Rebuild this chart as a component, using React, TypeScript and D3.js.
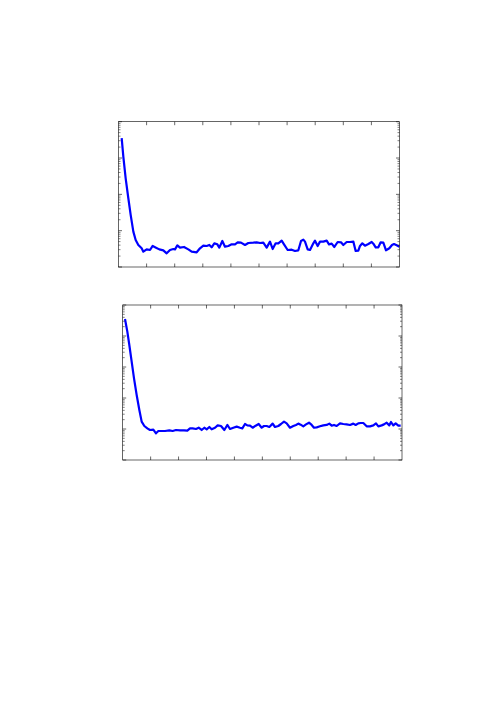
import React from "react";
import * as d3 from "d3";

// Top panel samples (x in 0..100, y values on log scale)
const topX = [1.13,1.72,2.55,3.5,4.33,5.28,6.11,7.06,8.24,8.84,10.02,11.21,12.16,13.35,14.53,15.95,17.14,18.33,19.51,20.11,20.94,21.89,23.31,24.85,26.04,27.82,29.0,30.19,31.38,32.32,33.15,34.1,35.17,35.88,36.95,37.9,39.09,40.27,41.46,42.41,43.59,45.02,46.2,47.98,49.17,50.36,51.54,52.73,53.91,54.86,55.93,56.88,58.07,58.9,60.2,61.63,62.81,64.0,64.95,65.78,66.37,67.32,68.15,69.34,69.93,70.88,71.71,72.9,74.08,74.91,75.86,76.81,78.0,79.18,80.01,81.2,82.38,83.57,84.4,85.35,85.94,86.77,87.72,88.91,90.1,90.69,91.52,92.47,93.3,94.25,95.2,96.38,97.33,98.04,98.99,99.94];
const topY = [0.351,0.109,0.0277,0.0078,0.00271,9.4e-4,5.54e-4,4.04e-4,3.27e-4,2.64e-4,3.06e-4,2.94e-4,3.79e-4,3.41e-4,3.06e-4,2.88e-4,2.38e-4,2.94e-4,3.13e-4,3.06e-4,3.95e-4,3.41e-4,3.56e-4,3.06e-4,2.64e-4,2.54e-4,3.27e-4,3.87e-4,3.79e-4,4.04e-4,3.48e-4,4.48e-4,4.21e-4,3.41e-4,5.2e-4,3.63e-4,3.79e-4,4.21e-4,4.21e-4,4.78e-4,4.68e-4,4.04e-4,4.58e-4,4.68e-4,4.78e-4,4.58e-4,4.68e-4,3.41e-4,4.99e-4,3.13e-4,4.48e-4,4.48e-4,5.31e-4,4.21e-4,2.94e-4,3.0e-4,2.76e-4,2.88e-4,5.2e-4,5.66e-4,4.99e-4,3.06e-4,2.94e-4,4.48e-4,5.31e-4,3.79e-4,4.99e-4,4.99e-4,5.31e-4,4.21e-4,4.39e-4,3.56e-4,4.88e-4,4.78e-4,4.04e-4,4.88e-4,4.88e-4,4.99e-4,2.76e-4,2.82e-4,3.79e-4,4.48e-4,3.87e-4,4.3e-4,4.88e-4,4.39e-4,3.48e-4,3.48e-4,4.78e-4,4.68e-4,2.88e-4,3.27e-4,4.04e-4,4.3e-4,3.95e-4,3.63e-4];

// Bottom panel samples
const botX = [0.82,1.66,2.37,3.21,4.05,5.0,5.96,6.79,7.75,8.82,9.77,10.97,11.92,12.76,13.95,15.15,16.7,17.89,19.08,20.52,21.95,23.14,24.1,25.05,26.24,27.2,28.27,29.23,30.06,31.02,31.85,33.05,34.0,35.2,36.39,37.46,38.42,39.61,40.81,42.0,42.83,43.79,44.62,45.58,46.53,47.61,48.68,49.76,50.59,51.55,52.5,53.69,54.53,55.72,56.68,57.75,58.71,59.9,61.09,62.05,62.88,63.72,64.67,65.63,66.7,67.66,68.49,69.45,70.64,71.83,73.03,73.98,74.82,75.65,76.61,77.8,78.99,80.19,81.38,82.57,83.41,84.36,85.2,86.15,87.35,88.54,89.74,90.69,91.53,92.72,93.56,94.51,95.46,96.06,96.9,97.73,98.69,99.52];
const botY = [0.353,0.138,0.0513,0.01486,0.0043,0.00125,4.1e-4,1.73e-4,1.25e-4,1.05e-4,9.29e-5,9.51e-5,7.25e-5,8.62e-5,8.62e-5,8.62e-5,9.06e-5,8.62e-5,9.29e-5,9.06e-5,9.06e-5,8.83e-5,1.05e-4,1.05e-4,1.0e-4,1.1e-4,9.29e-5,1.1e-4,9.76e-5,1.16e-4,9.76e-5,1.1e-4,1.31e-4,1.25e-4,9.29e-5,1.35e-4,1.0e-4,1.1e-4,1.19e-4,1.1e-4,1.05e-4,1.45e-4,1.31e-4,1.28e-4,1.1e-4,1.28e-4,1.45e-4,1.1e-4,1.25e-4,1.25e-4,1.16e-4,1.49e-4,1.16e-4,1.25e-4,1.45e-4,1.73e-4,1.52e-4,1.1e-4,1.25e-4,1.35e-4,1.49e-4,1.38e-4,1.22e-4,1.41e-4,1.6e-4,1.35e-4,1.1e-4,1.13e-4,1.22e-4,1.31e-4,1.35e-4,1.49e-4,1.28e-4,1.35e-4,1.25e-4,1.52e-4,1.45e-4,1.41e-4,1.35e-4,1.49e-4,1.35e-4,1.52e-4,1.56e-4,1.56e-4,1.22e-4,1.22e-4,1.31e-4,1.52e-4,1.22e-4,1.31e-4,1.41e-4,1.6e-4,1.31e-4,1.68e-4,1.31e-4,1.52e-4,1.28e-4,1.28e-4];

const xTicks = [10, 20, 30, 40, 50, 60, 70, 80, 90];

type PanelProps = {
  left: number; top: number; width: number; height: number;
  yDomain: [number, number]; xs: number[]; ys: number[];
};

function Panel({ left, top, width, height, yDomain, xs, ys }: PanelProps) {
  const x = d3.scaleLinear().domain([0, 100]).range([left, left + width]);
  const y = d3.scaleLog().domain(yDomain).range([top + height, top]);
  const line = d3.line<number>().x((_, i) => x(xs[i])).y((d) => y(d));
  const lo = Math.round(Math.log10(yDomain[0]));
  const hi = Math.round(Math.log10(yDomain[1]));
  const majors: number[] = [];
  const minors: number[] = [];
  for (let e = lo; e <= hi; e++) {
    majors.push(Math.pow(10, e));
    if (e < hi) for (let m = 2; m <= 9; m++) minors.push(m * Math.pow(10, e));
  }
  const tk = 3.5;
  const mk = 2;
  const sw = 0.6;
  return (
    <g>
      <path d={line(ys) || ""} fill="none" stroke="#0000ff" strokeWidth={2.2} strokeLinejoin="round" />
      <rect x={left} y={top} width={width} height={height} fill="none" stroke="#000" strokeWidth={sw} />
      {xTicks.map((t) => (
        <g key={"x" + t}>
          <line x1={x(t)} x2={x(t)} y1={top + height} y2={top + height - tk} stroke="#000" strokeWidth={sw} />
          <line x1={x(t)} x2={x(t)} y1={top} y2={top + tk} stroke="#000" strokeWidth={sw} />
        </g>
      ))}
      {majors.map((t) => (
        <g key={"ym" + t}>
          <line x1={left} x2={left + tk} y1={y(t)} y2={y(t)} stroke="#000" strokeWidth={sw} />
          <line x1={left + width} x2={left + width - tk} y1={y(t)} y2={y(t)} stroke="#000" strokeWidth={sw} />
        </g>
      ))}
      {minors.map((t) => (
        <g key={"yn" + t}>
          <line x1={left} x2={left + mk} y1={y(t)} y2={y(t)} stroke="#000" strokeWidth={0.5} />
          <line x1={left + width} x2={left + width - mk} y1={y(t)} y2={y(t)} stroke="#000" strokeWidth={0.5} />
        </g>
      ))}
    </g>
  );
}

export default function App() {
  return (
    <svg width={499} height={706} style={{ position: "absolute", left: 0, top: 0, background: "#fff" }}>
      <rect width={499} height={706} fill="#fff" />
      <Panel left={118.5} top={121.7} width={281} height={145.3} yDomain={[1e-4, 1]} xs={topX} ys={topY} />
      <Panel left={122.7} top={305} width={279.3} height={155} yDomain={[1e-5, 1]} xs={botX} ys={botY} />
    </svg>
  );
}
